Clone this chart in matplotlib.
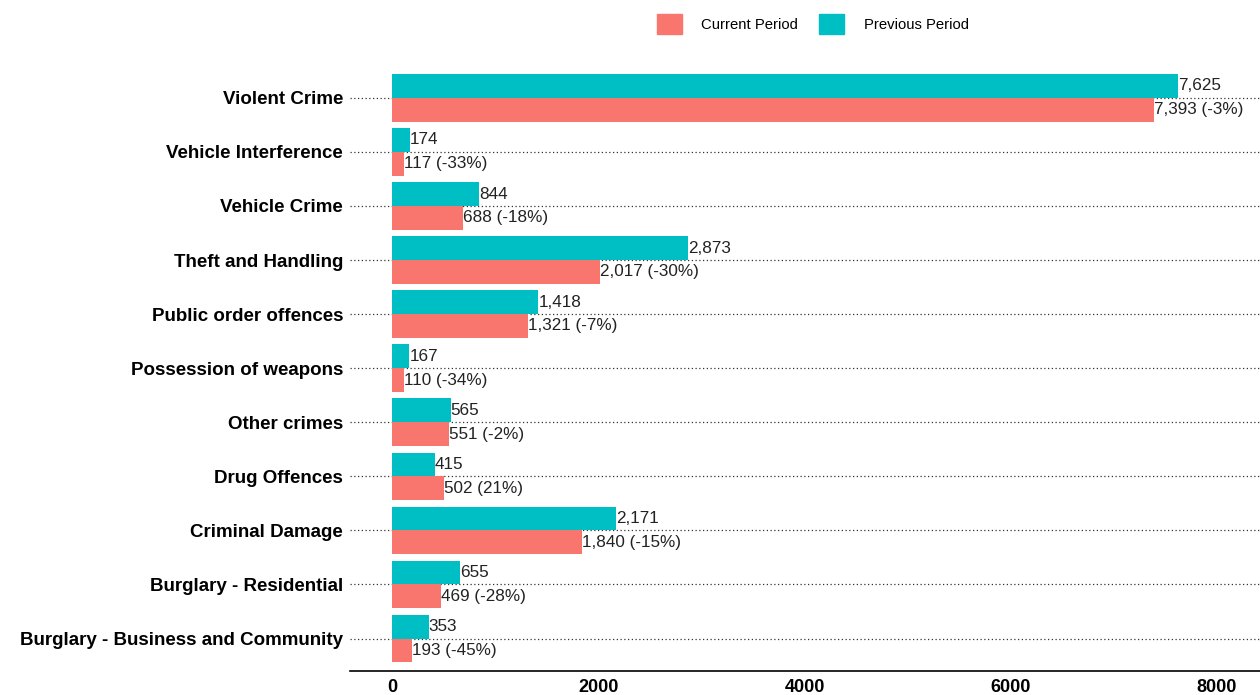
import matplotlib
matplotlib.use("Agg")
import numpy as np
import matplotlib.pyplot as plt
import matplotlib.patches as patch

plt.rcParams['font.family'] = ['Liberation Sans', 'DejaVu Sans']

categories = ["Burglary - Business and Community", "Burglary - Residential",
              "Criminal Damage", "Drug Offences", "Other crimes",
              "Possession of weapons", "Public order offences",
              "Theft and Handling", "Vehicle Crime", "Vehicle Interference",
              "Violent Crime"]
previous = [353, 655, 2171, 415, 565, 167, 1418, 2873, 844, 174, 7625]
current = [193, 469, 1840, 502, 551, 110, 1321, 2017, 688, 117, 7393]
x_ticks = [0, 2000, 4000, 6000, 8000]

CUR_COL = "#F8766D"
PREV_COL = "#00BFC4"
BAR_H = 0.44

fig = plt.figure(figsize=(12.6, 6.95), dpi=100)
ax = fig.add_axes([0.2778, 0.0345, 0.7222, 0.8715])

y = np.arange(len(categories))
ax.barh(y + BAR_H / 2, previous, height=BAR_H, color=PREV_COL, zorder=2)
ax.barh(y - BAR_H / 2, current, height=BAR_H, color=CUR_COL, zorder=2)

# gridlines at each category
for yi in y:
    ax.axhline(yi, color="#333333", lw=0.9, ls=(0, (1, 2)), zorder=1)

for yi, p, c in zip(y, previous, current):
    pct = round((c - p) / p * 100)
    ax.text(p, yi + BAR_H / 2, f"{p:,}", va="center", ha="left",
            fontsize=12.3, color="#222222", zorder=3)
    ax.text(c, yi - BAR_H / 2, f"{c:,} ({pct}%)", va="center", ha="left",
            fontsize=12.3, color="#222222", zorder=3)

ax.set_xlim(-410, 8420)
ax.set_ylim(-0.6, len(categories) - 0.4)
ax.set_yticks(y)
ax.set_yticklabels(categories, fontsize=13.5, fontweight="bold")
ax.set_xticks(x_ticks)
ax.set_xticklabels([str(t) for t in x_ticks], fontsize=13, fontweight="bold")
ax.tick_params(axis="both", length=0)
ax.tick_params(axis="y", pad=5)
ax.tick_params(axis="x", pad=6)
for s in ["top", "right", "left"]:
    ax.spines[s].set_visible(False)
ax.spines["bottom"].set_linewidth(1.2)

handles = [patch.Patch(color=CUR_COL, label="Current Period"),
           patch.Patch(color=PREV_COL, label="Previous Period")]
fig.legend(handles=handles, loc="center", bbox_to_anchor=(0.645, 0.965),
           ncol=2, frameon=False, fontsize=10.7, handlelength=1.7,
           handleheight=1.7, handletextpad=1.3, columnspacing=1.4)

fig.savefig("out.png", dpi=100)
